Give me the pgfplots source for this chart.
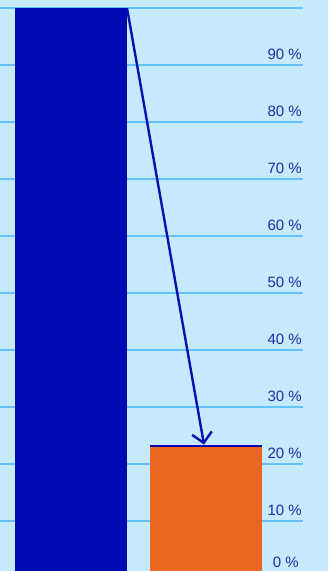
\documentclass[border=0pt]{standalone}
\usepackage{pgfplots}
\pgfplotsset{compat=1.18}
\usepackage{fontspec}
\setmainfont{Liberation Sans}
\usetikzlibrary{arrows.meta}
\definecolor{bgc}{HTML}{C5E9FD}
\definecolor{gridc}{HTML}{66C2FF}
\definecolor{bluebar}{HTML}{000AB0}
\definecolor{orangebar}{HTML}{EB6620}
\definecolor{arrowc}{HTML}{0C10B0}
\definecolor{labelc}{HTML}{1E2EA8}
\begin{document}
\begin{tikzpicture}
\useasboundingbox (0,0) rectangle (328bp,571bp);
\clip (0,0) rectangle (328bp,571bp);
\fill[bgc] (0,0) rectangle (328bp,571bp);
\begin{axis}[
  at={(0,-7bp)}, anchor=south west,
  scale only axis, width=303bp, height=578bp,
  xmin=0, xmax=303, ymin=0, ymax=101.4,
  axis line style={draw=none},
  tick style={draw=none},
  xtick=\empty,
  ytick={10,20,...,100},
  yticklabels={10 \%,20 \%,30 \%,40 \%,50 \%,60 \%,70 \%,80 \%,90 \%,},
  yticklabel pos=right,
  yticklabel style={anchor=base east, inner sep=0pt, xshift=-1bp, yshift=5bp, font=\fontsize{15bp}{18bp}\selectfont, text=labelc},
  extra y ticks={0},
  extra y tick labels={0 \%},
  extra y tick style={yticklabel style={yshift=5.5bp, xshift=-3bp}},
  ymajorgrids,
  grid style={color=gridc, line width=1.1bp},
  clip=false,
]
\addplot[ybar, bar width=112, bar shift=0pt, fill=bluebar, draw=none] coordinates {(71,100)};
\addplot[ybar, bar width=112, bar shift=0pt, fill=orangebar, draw=none] coordinates {(206,23.2)};
\addplot[draw=bluebar, line width=2bp] coordinates {(150,23.2) (262,23.2)};
\addplot[draw=arrowc, line width=2.4bp, -{Straight Barb[length=10bp,width=20bp]}] coordinates {(127,100) (204,23.4)};
\end{axis}
\end{tikzpicture}
\end{document}
